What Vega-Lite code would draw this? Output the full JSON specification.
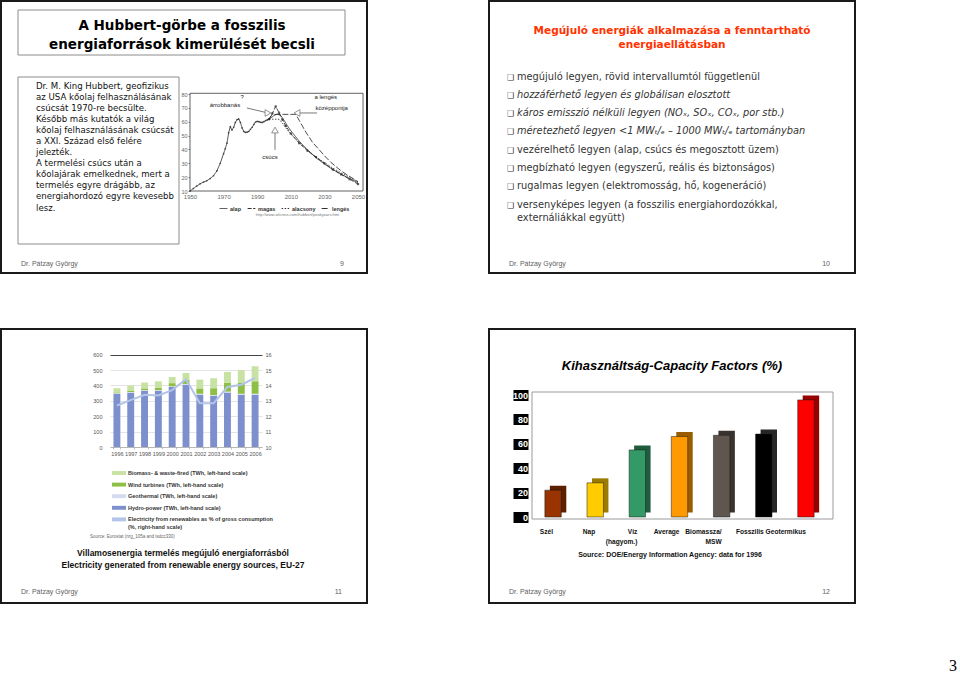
{
  "$schema": "https://vega.github.io/schema/vega-lite/v6.json",
  "background": "white",
  "padding": 0,
  "autosize": {"type": "pad"},
  "bounds": "flush",
  "columns": 2,
  "spacing": {"row": 56, "column": 122},
  "config": {
    "view": {"stroke": null},
    "axis": {"labelFont": "Liberation Sans", "grid": false, "labelOverlap": false, "labelFlush": false},
    "legend": {"labelFont": "Liberation Sans", "padding": 0},
    "text": {"font": "Liberation Sans"}
  },
  "datasets": {
    "hubbert": [
      {"series": "alap", "year": 1950, "value": 10.0}, {"series": "alap", "year": 1952, "value": 11.8},
      {"series": "alap", "year": 1954, "value": 13.6}, {"series": "alap", "year": 1956, "value": 15.2},
      {"series": "alap", "year": 1958, "value": 16.4}, {"series": "alap", "year": 1960, "value": 17.4},
      {"series": "alap", "year": 1962, "value": 19.0}, {"series": "alap", "year": 1964, "value": 21.0},
      {"series": "alap", "year": 1966, "value": 24.5}, {"series": "alap", "year": 1968, "value": 30.0},
      {"series": "alap", "year": 1970, "value": 37.0}, {"series": "alap", "year": 1971, "value": 40.5},
      {"series": "alap", "year": 1972, "value": 44.5}, {"series": "alap", "year": 1973, "value": 52.0},
      {"series": "alap", "year": 1974, "value": 56.5}, {"series": "alap", "year": 1975, "value": 54.0},
      {"series": "alap", "year": 1976, "value": 56.0}, {"series": "alap", "year": 1977, "value": 59.5},
      {"series": "alap", "year": 1978, "value": 61.5}, {"series": "alap", "year": 1979, "value": 62.0},
      {"series": "alap", "year": 1980, "value": 59.5}, {"series": "alap", "year": 1981, "value": 55.5},
      {"series": "alap", "year": 1982, "value": 53.0}, {"series": "alap", "year": 1983, "value": 52.3},
      {"series": "alap", "year": 1984, "value": 52.5}, {"series": "alap", "year": 1985, "value": 53.0},
      {"series": "alap", "year": 1986, "value": 54.5}, {"series": "alap", "year": 1987, "value": 56.0},
      {"series": "alap", "year": 1988, "value": 58.0}, {"series": "alap", "year": 1989, "value": 59.8},
      {"series": "alap", "year": 1990, "value": 60.2}, {"series": "alap", "year": 1991, "value": 60.0},
      {"series": "alap", "year": 1992, "value": 59.6}, {"series": "alap", "year": 1993, "value": 59.5},
      {"series": "alap", "year": 1994, "value": 60.0}, {"series": "alap", "year": 1995, "value": 60.8},
      {"series": "alap", "year": 1996, "value": 61.3}, {"series": "alap", "year": 1997, "value": 61.8},
      {"series": "alap", "year": 1998, "value": 62.5}, {"series": "alap", "year": 2000, "value": 64.5},
      {"series": "alap", "year": 2002, "value": 65.5}, {"series": "alap", "year": 2004, "value": 64.5},
      {"series": "alap", "year": 2006, "value": 61.0}, {"series": "alap", "year": 2008, "value": 57.0},
      {"series": "alap", "year": 2010, "value": 53.5}, {"series": "alap", "year": 2015, "value": 46.0},
      {"series": "alap", "year": 2020, "value": 39.5}, {"series": "alap", "year": 2025, "value": 34.0},
      {"series": "alap", "year": 2030, "value": 29.5}, {"series": "alap", "year": 2035, "value": 25.5},
      {"series": "alap", "year": 2040, "value": 22.0}, {"series": "alap", "year": 2045, "value": 19.0},
      {"series": "alap", "year": 2050, "value": 16.0},
      {"series": "magas", "year": 1997, "value": 61.8}, {"series": "magas", "year": 1999, "value": 66.0},
      {"series": "magas", "year": 2001, "value": 71.0}, {"series": "magas", "year": 2003, "value": 66.5},
      {"series": "magas", "year": 2005, "value": 61.5}, {"series": "magas", "year": 2007, "value": 57.0},
      {"series": "magas", "year": 2010, "value": 51.5}, {"series": "magas", "year": 2015, "value": 44.5},
      {"series": "magas", "year": 2020, "value": 39.0}, {"series": "magas", "year": 2025, "value": 34.5},
      {"series": "magas", "year": 2030, "value": 30.0}, {"series": "magas", "year": 2035, "value": 25.5},
      {"series": "magas", "year": 2040, "value": 22.0}, {"series": "magas", "year": 2045, "value": 18.5},
      {"series": "magas", "year": 2050, "value": 15.0},
      {"series": "alacsony", "year": 1997, "value": 61.8}, {"series": "alacsony", "year": 2003, "value": 61.8},
      {"series": "alacsony", "year": 2005, "value": 59.0}, {"series": "alacsony", "year": 2008, "value": 54.0},
      {"series": "alacsony", "year": 2010, "value": 51.0}, {"series": "alacsony", "year": 2015, "value": 45.0},
      {"series": "alacsony", "year": 2020, "value": 39.5}, {"series": "alacsony", "year": 2025, "value": 34.5},
      {"series": "alacsony", "year": 2030, "value": 30.5}, {"series": "alacsony", "year": 2035, "value": 26.5},
      {"series": "alacsony", "year": 2040, "value": 23.0}, {"series": "alacsony", "year": 2045, "value": 20.0},
      {"series": "alacsony", "year": 2050, "value": 16.5},
      {"series": "lengés", "year": 1997, "value": 61.8}, {"series": "lengés", "year": 1999, "value": 65.3},
      {"series": "lengés", "year": 2013, "value": 65.3}, {"series": "lengés", "year": 2015, "value": 61.0},
      {"series": "lengés", "year": 2018, "value": 54.5}, {"series": "lengés", "year": 2020, "value": 50.5},
      {"series": "lengés", "year": 2023, "value": 45.0}, {"series": "lengés", "year": 2026, "value": 41.0},
      {"series": "lengés", "year": 2030, "value": 35.5}, {"series": "lengés", "year": 2034, "value": 30.5},
      {"series": "lengés", "year": 2037, "value": 27.5}, {"series": "lengés", "year": 2040, "value": 24.5},
      {"series": "lengés", "year": 2043, "value": 22.0}, {"series": "lengés", "year": 2047, "value": 19.0},
      {"series": "lengés", "year": 2050, "value": 16.7}
    ],
    "hubbertNotes": [
      {"label": "árrobbanás", "year": 1970.8, "value": 72.0},
      {"label": "?", "year": 1981, "value": 77.5},
      {"label": "a lengés", "year": 2030.8, "value": 77.8},
      {"label": "középpontja", "year": 2034.3, "value": 69.9},
      {"label": "csúcs", "year": 1997.6, "value": 34.5}
    ],
    "hubbertArrows": [
      {"target": "árrobbanás", "year": 1983.9, "value": 69.9, "year2": 1996.4, "value2": 66.3},
      {"target": "a lengés középpontja", "year": 2025.6, "value": 66.3, "year2": 2013.7, "value2": 66.3},
      {"target": "csúcs", "year": 2000.6, "value": 39.6, "year2": 2000.6, "value2": 54.0}
    ],
    "renewables": [
      {"year": 1996, "series": "Hydro-power (TWh, left-hand scale)", "ord": 1, "twh": 345},
      {"year": 1996, "series": "Geothermal (TWh, left-hand scale)", "ord": 2, "twh": 5},
      {"year": 1996, "series": "Wind turbines (TWh, left-hand scale)", "ord": 3, "twh": 5},
      {"year": 1996, "series": "Biomass- & waste-fired (TWh, left-hand scale)", "ord": 4, "twh": 27},
      {"year": 1997, "series": "Hydro-power (TWh, left-hand scale)", "ord": 1, "twh": 352},
      {"year": 1997, "series": "Geothermal (TWh, left-hand scale)", "ord": 2, "twh": 5},
      {"year": 1997, "series": "Wind turbines (TWh, left-hand scale)", "ord": 3, "twh": 7},
      {"year": 1997, "series": "Biomass- & waste-fired (TWh, left-hand scale)", "ord": 4, "twh": 35},
      {"year": 1998, "series": "Hydro-power (TWh, left-hand scale)", "ord": 1, "twh": 365},
      {"year": 1998, "series": "Geothermal (TWh, left-hand scale)", "ord": 2, "twh": 5},
      {"year": 1998, "series": "Wind turbines (TWh, left-hand scale)", "ord": 3, "twh": 11},
      {"year": 1998, "series": "Biomass- & waste-fired (TWh, left-hand scale)", "ord": 4, "twh": 38},
      {"year": 1999, "series": "Hydro-power (TWh, left-hand scale)", "ord": 1, "twh": 365},
      {"year": 1999, "series": "Geothermal (TWh, left-hand scale)", "ord": 2, "twh": 5},
      {"year": 1999, "series": "Wind turbines (TWh, left-hand scale)", "ord": 3, "twh": 14},
      {"year": 1999, "series": "Biomass- & waste-fired (TWh, left-hand scale)", "ord": 4, "twh": 43},
      {"year": 2000, "series": "Hydro-power (TWh, left-hand scale)", "ord": 1, "twh": 390},
      {"year": 2000, "series": "Geothermal (TWh, left-hand scale)", "ord": 2, "twh": 5},
      {"year": 2000, "series": "Wind turbines (TWh, left-hand scale)", "ord": 3, "twh": 20},
      {"year": 2000, "series": "Biomass- & waste-fired (TWh, left-hand scale)", "ord": 4, "twh": 40},
      {"year": 2001, "series": "Hydro-power (TWh, left-hand scale)", "ord": 1, "twh": 405},
      {"year": 2001, "series": "Geothermal (TWh, left-hand scale)", "ord": 2, "twh": 5},
      {"year": 2001, "series": "Wind turbines (TWh, left-hand scale)", "ord": 3, "twh": 26},
      {"year": 2001, "series": "Biomass- & waste-fired (TWh, left-hand scale)", "ord": 4, "twh": 45},
      {"year": 2002, "series": "Hydro-power (TWh, left-hand scale)", "ord": 1, "twh": 340},
      {"year": 2002, "series": "Geothermal (TWh, left-hand scale)", "ord": 2, "twh": 6},
      {"year": 2002, "series": "Wind turbines (TWh, left-hand scale)", "ord": 3, "twh": 35},
      {"year": 2002, "series": "Biomass- & waste-fired (TWh, left-hand scale)", "ord": 4, "twh": 57},
      {"year": 2003, "series": "Hydro-power (TWh, left-hand scale)", "ord": 1, "twh": 332},
      {"year": 2003, "series": "Geothermal (TWh, left-hand scale)", "ord": 2, "twh": 6},
      {"year": 2003, "series": "Wind turbines (TWh, left-hand scale)", "ord": 3, "twh": 44},
      {"year": 2003, "series": "Biomass- & waste-fired (TWh, left-hand scale)", "ord": 4, "twh": 65},
      {"year": 2004, "series": "Hydro-power (TWh, left-hand scale)", "ord": 1, "twh": 354},
      {"year": 2004, "series": "Geothermal (TWh, left-hand scale)", "ord": 2, "twh": 6},
      {"year": 2004, "series": "Wind turbines (TWh, left-hand scale)", "ord": 3, "twh": 58},
      {"year": 2004, "series": "Biomass- & waste-fired (TWh, left-hand scale)", "ord": 4, "twh": 70},
      {"year": 2005, "series": "Hydro-power (TWh, left-hand scale)", "ord": 1, "twh": 340},
      {"year": 2005, "series": "Geothermal (TWh, left-hand scale)", "ord": 2, "twh": 6},
      {"year": 2005, "series": "Wind turbines (TWh, left-hand scale)", "ord": 3, "twh": 70},
      {"year": 2005, "series": "Biomass- & waste-fired (TWh, left-hand scale)", "ord": 4, "twh": 84},
      {"year": 2006, "series": "Hydro-power (TWh, left-hand scale)", "ord": 1, "twh": 340},
      {"year": 2006, "series": "Geothermal (TWh, left-hand scale)", "ord": 2, "twh": 6},
      {"year": 2006, "series": "Wind turbines (TWh, left-hand scale)", "ord": 3, "twh": 82},
      {"year": 2006, "series": "Biomass- & waste-fired (TWh, left-hand scale)", "ord": 4, "twh": 97}
    ],
    "share": [
      {"year": 1996, "series": "Electricity from renewables as % of gross consumption (%, right-hand scale)", "pct": 12.7},
      {"year": 1997, "series": "Electricity from renewables as % of gross consumption (%, right-hand scale)", "pct": 13.05},
      {"year": 1998, "series": "Electricity from renewables as % of gross consumption (%, right-hand scale)", "pct": 13.4},
      {"year": 1999, "series": "Electricity from renewables as % of gross consumption (%, right-hand scale)", "pct": 13.35},
      {"year": 2000, "series": "Electricity from renewables as % of gross consumption (%, right-hand scale)", "pct": 13.7},
      {"year": 2001, "series": "Electricity from renewables as % of gross consumption (%, right-hand scale)", "pct": 14.4},
      {"year": 2002, "series": "Electricity from renewables as % of gross consumption (%, right-hand scale)", "pct": 12.85},
      {"year": 2003, "series": "Electricity from renewables as % of gross consumption (%, right-hand scale)", "pct": 12.85},
      {"year": 2004, "series": "Electricity from renewables as % of gross consumption (%, right-hand scale)", "pct": 13.9},
      {"year": 2005, "series": "Electricity from renewables as % of gross consumption (%, right-hand scale)", "pct": 14.05},
      {"year": 2006, "series": "Electricity from renewables as % of gross consumption (%, right-hand scale)", "pct": 14.5}
    ],
    "capacity": [
      {"source": "Szél", "cf": 22},
      {"source": "Nap", "cf": 28},
      {"source": "Víz|(hagyom.)", "cf": 55},
      {"source": "Average", "cf": 66},
      {"source": "Biomassza/|MSW", "cf": 67},
      {"source": "Fosszilis", "cf": 68},
      {"source": "Geotermikus", "cf": 96}
    ]
  },
  "concat": [
    {
      "width": 366,
      "height": 272,
      "view": {"stroke": "#1a1a1a", "strokeWidth": 2, "fill": "white"},
      "resolve": {"scale": {"x": "independent", "y": "independent"}},
      "layer": [
        {
          "layer": [
            {
              "data": {"values": [{"box": "title"}]},
              "mark": {"type": "rect", "fill": "white", "stroke": "#8c8c8c", "strokeWidth": 1},
              "encoding": {
                "x": {"datum": 17, "type": "quantitative", "scale": {"domain": [0, 366], "range": [0, 366], "nice": false, "zero": false}, "axis": null},
                "x2": {"datum": 344},
                "y": {"datum": 9, "type": "quantitative", "scale": {"domain": [0, 272], "range": [0, 272], "nice": false, "zero": false}, "axis": null},
                "y2": {"datum": 54}
              }
            },
            {
              "data": {"values": [{"box": "text"}]},
              "mark": {"type": "rect", "fill": "white", "stroke": "#8c8c8c", "strokeWidth": 1},
              "encoding": {
                "x": {"datum": 17, "type": "quantitative", "scale": {"domain": [0, 366], "range": [0, 366], "nice": false, "zero": false}, "axis": null},
                "x2": {"datum": 178},
                "y": {"datum": 76, "type": "quantitative", "scale": {"domain": [0, 272], "range": [0, 272], "nice": false, "zero": false}, "axis": null},
                "y2": {"datum": 243}
              }
            },
            {
              "data": {"values": [{"t": ["A Hubbert-görbe a fosszilis", "energiaforrások kimerülését becsli"]}]},
              "mark": {"type": "text", "font": "DejaVu Sans", "fontSize": 13.5, "fontWeight": "bold", "align": "center", "baseline": "alphabetic", "lineHeight": 19, "color": "#000"},
              "encoding": {
                "text": {"field": "t"},
                "x": {"datum": 181, "type": "quantitative", "scale": {"domain": [0, 366], "range": [0, 366], "nice": false, "zero": false}, "axis": null},
                "y": {"datum": 29, "type": "quantitative", "scale": {"domain": [0, 272], "range": [0, 272], "nice": false, "zero": false}, "axis": null}
              }
            },
            {
              "data": {"values": [{"t": ["Dr. M. King Hubbert, geofizikus", "az USA kőolaj felhasználásának", "csúcsát 1970-re becsülte.", "Később más kutatók a világ", "kőolaj felhasználásának csúcsát", "a XXI. Század első felére", "jelezték.", "A termelési csúcs után a", "kőolajárak emelkednek, mert a", "termelés egyre drágább, az", "energiahordozó egyre kevesebb", "lesz."]}]},
              "mark": {"type": "text", "font": "DejaVu Sans", "fontSize": 8.6, "align": "left", "baseline": "alphabetic", "lineHeight": 11.1, "color": "#111"},
              "encoding": {
                "text": {"field": "t"},
                "x": {"datum": 35, "type": "quantitative", "scale": {"domain": [0, 366], "range": [0, 366], "nice": false, "zero": false}, "axis": null},
                "y": {"datum": 87.5, "type": "quantitative", "scale": {"domain": [0, 272], "range": [0, 272], "nice": false, "zero": false}, "axis": null}
              }
            },
            {
              "data": {"values": [{"t": "Dr. Pátzay György"}]},
              "mark": {"type": "text", "fontSize": 7, "align": "left", "baseline": "middle", "color": "#606060"},
              "encoding": {
                "text": {"field": "t"},
                "x": {"datum": 20, "type": "quantitative", "scale": {"domain": [0, 366], "range": [0, 366], "nice": false, "zero": false}, "axis": null},
                "y": {"datum": 263, "type": "quantitative", "scale": {"domain": [0, 272], "range": [0, 272], "nice": false, "zero": false}, "axis": null}
              }
            },
            {
              "data": {"values": [{"t": "9"}]},
              "mark": {"type": "text", "fontSize": 7, "align": "right", "baseline": "middle", "color": "#606060"},
              "encoding": {
                "text": {"field": "t"},
                "x": {"datum": 343, "type": "quantitative", "scale": {"domain": [0, 366], "range": [0, 366], "nice": false, "zero": false}, "axis": null},
                "y": {"datum": 263, "type": "quantitative", "scale": {"domain": [0, 272], "range": [0, 272], "nice": false, "zero": false}, "axis": null}
              }
            }
          ]
        },
        {
          "layer": [
            {
              "data": {"values": [{"frame": "plot"}]},
              "mark": {"type": "rect", "fill": "white", "stroke": "#3a3a3a", "strokeWidth": 0.8},
              "encoding": {
                "x": {"datum": 1950, "type": "quantitative", "scale": {"domain": [1950, 2050], "range": [189, 357], "nice": false, "zero": false},
                  "axis": {"orient": "bottom", "offset": -82, "title": null, "values": [1950, 1970, 1990, 2010, 2030, 2050], "format": "d", "domain": false, "ticks": false, "labelFontSize": 6, "labelColor": "#666", "labelPadding": 2, "grid": false, "labelOverlap": false}},
                "x2": {"datum": 2053},
                "y": {"datum": 10, "type": "quantitative", "scale": {"domain": [10, 80], "range": [190, 93], "nice": false, "zero": false},
                  "axis": {"orient": "left", "offset": -189, "title": null, "values": [10, 20, 30, 40, 50, 60, 70, 80], "tickCount": 8, "domain": false, "ticks": true, "tickSize": 2, "tickColor": "#888", "labelFontSize": 5.5, "labelColor": "#666", "labelPadding": 1, "grid": false, "labelOverlap": false, "labelBound": false, "labelSeparation": 0}},
                "y2": {"datum": 80.5}
              }
            },
            {
              "data": {"name": "hubbert"},
              "mark": {"type": "line", "strokeWidth": 0.8, "color": "#222"},
              "encoding": {
                "x": {"field": "year", "type": "quantitative", "scale": {"domain": [1950, 2050], "range": [189, 357], "nice": false, "zero": false},
                  "axis": {"orient": "bottom", "offset": -82, "title": null, "values": [1950, 1970, 1990, 2010, 2030, 2050], "format": "d", "domain": false, "ticks": false, "labelFontSize": 6, "labelColor": "#666", "labelPadding": 2, "grid": false, "labelOverlap": false}},
                "y": {"field": "value", "type": "quantitative", "scale": {"domain": [10, 80], "range": [190, 93], "nice": false, "zero": false},
                  "axis": {"orient": "left", "offset": -189, "title": null, "values": [10, 20, 30, 40, 50, 60, 70, 80], "tickCount": 8, "domain": false, "ticks": true, "tickSize": 2, "tickColor": "#888", "labelFontSize": 5.5, "labelColor": "#666", "labelPadding": 1, "grid": false, "labelOverlap": false, "labelBound": false, "labelSeparation": 0}},
                "strokeDash": {"field": "series", "type": "nominal",
                  "scale": {"domain": ["alap", "magas", "alacsony", "lengés"], "range": [[1, 0], [4, 1.5], [1.5, 1.5], [6, 2]]},
                  "legend": {"orient": "none", "legendX": 218, "legendY": 203, "direction": "horizontal", "title": null, "symbolType": "stroke", "symbolSize": 60, "symbolStrokeWidth": 1, "symbolStrokeColor": "#333", "labelFontSize": 5.5, "labelFontWeight": "bold", "labelColor": "#333", "columnPadding": 3, "labelOffset": 2}}
              }
            },
            {
              "data": {"name": "hubbert"},
              "transform": [{"filter": "datum.series === 'alap' && datum.year <= 1997"}],
              "mark": {"type": "point", "shape": "circle", "size": 3, "filled": true, "color": "#222"},
              "encoding": {
                "x": {"field": "year", "type": "quantitative", "scale": {"domain": [1950, 2050], "range": [189, 357], "nice": false, "zero": false},
                  "axis": {"orient": "bottom", "offset": -82, "title": null, "values": [1950, 1970, 1990, 2010, 2030, 2050], "format": "d", "domain": false, "ticks": false, "labelFontSize": 6, "labelColor": "#666", "labelPadding": 2, "grid": false, "labelOverlap": false}},
                "y": {"field": "value", "type": "quantitative", "scale": {"domain": [10, 80], "range": [190, 93], "nice": false, "zero": false},
                  "axis": {"orient": "left", "offset": -189, "title": null, "values": [10, 20, 30, 40, 50, 60, 70, 80], "tickCount": 8, "domain": false, "ticks": true, "tickSize": 2, "tickColor": "#888", "labelFontSize": 5.5, "labelColor": "#666", "labelPadding": 1, "grid": false, "labelOverlap": false, "labelBound": false, "labelSeparation": 0}}
              }
            },
            {
              "data": {"name": "hubbert"},
              "transform": [{"filter": "datum.series === 'magas'"}],
              "mark": {"type": "point", "shape": "square", "size": 5, "filled": true, "color": "#222"},
              "encoding": {
                "x": {"field": "year", "type": "quantitative", "scale": {"domain": [1950, 2050], "range": [189, 357], "nice": false, "zero": false},
                  "axis": {"orient": "bottom", "offset": -82, "title": null, "values": [1950, 1970, 1990, 2010, 2030, 2050], "format": "d", "domain": false, "ticks": false, "labelFontSize": 6, "labelColor": "#666", "labelPadding": 2, "grid": false, "labelOverlap": false}},
                "y": {"field": "value", "type": "quantitative", "scale": {"domain": [10, 80], "range": [190, 93], "nice": false, "zero": false},
                  "axis": {"orient": "left", "offset": -189, "title": null, "values": [10, 20, 30, 40, 50, 60, 70, 80], "tickCount": 8, "domain": false, "ticks": true, "tickSize": 2, "tickColor": "#888", "labelFontSize": 5.5, "labelColor": "#666", "labelPadding": 1, "grid": false, "labelOverlap": false, "labelBound": false, "labelSeparation": 0}}
              }
            },
            {
              "data": {"name": "hubbertArrows"},
              "mark": {"type": "rule", "color": "#7a7a7a", "strokeWidth": 1},
              "encoding": {
                "x": {"field": "year", "type": "quantitative", "scale": {"domain": [1950, 2050], "range": [189, 357], "nice": false, "zero": false},
                  "axis": {"orient": "bottom", "offset": -82, "title": null, "values": [1950, 1970, 1990, 2010, 2030, 2050], "format": "d", "domain": false, "ticks": false, "labelFontSize": 6, "labelColor": "#666", "labelPadding": 2, "grid": false, "labelOverlap": false}},
                "y": {"field": "value", "type": "quantitative", "scale": {"domain": [10, 80], "range": [190, 93], "nice": false, "zero": false},
                  "axis": {"orient": "left", "offset": -189, "title": null, "values": [10, 20, 30, 40, 50, 60, 70, 80], "tickCount": 8, "domain": false, "ticks": true, "tickSize": 2, "tickColor": "#888", "labelFontSize": 5.5, "labelColor": "#666", "labelPadding": 1, "grid": false, "labelOverlap": false, "labelBound": false, "labelSeparation": 0}},
                "x2": {"field": "year2"},
                "y2": {"field": "value2"}
              }
            },
            {
              "data": {"name": "hubbertArrows"},
              "mark": {"type": "point", "filled": true, "fill": "white", "stroke": "#7a7a7a", "strokeWidth": 0.8, "size": 45, "opacity": 1},
              "encoding": {
                "x": {"field": "year2", "type": "quantitative", "scale": {"domain": [1950, 2050], "range": [189, 357], "nice": false, "zero": false},
                  "axis": {"orient": "bottom", "offset": -82, "title": null, "values": [1950, 1970, 1990, 2010, 2030, 2050], "format": "d", "domain": false, "ticks": false, "labelFontSize": 6, "labelColor": "#666", "labelPadding": 2, "grid": false, "labelOverlap": false}},
                "y": {"field": "value2", "type": "quantitative", "scale": {"domain": [10, 80], "range": [190, 93], "nice": false, "zero": false},
                  "axis": {"orient": "left", "offset": -189, "title": null, "values": [10, 20, 30, 40, 50, 60, 70, 80], "tickCount": 8, "domain": false, "ticks": true, "tickSize": 2, "tickColor": "#888", "labelFontSize": 5.5, "labelColor": "#666", "labelPadding": 1, "grid": false, "labelOverlap": false, "labelBound": false, "labelSeparation": 0}},
                "shape": {"field": "target", "type": "nominal", "scale": {"domain": ["árrobbanás", "a lengés középpontja", "csúcs"], "range": ["triangle-right", "triangle-left", "triangle-up"]}, "legend": null}
              }
            },
            {
              "data": {"name": "hubbertNotes"},
              "mark": {"type": "text", "fontSize": 6, "color": "#222", "align": "center", "baseline": "middle"},
              "encoding": {
                "text": {"field": "label"},
                "x": {"field": "year", "type": "quantitative", "scale": {"domain": [1950, 2050], "range": [189, 357], "nice": false, "zero": false},
                  "axis": {"orient": "bottom", "offset": -82, "title": null, "values": [1950, 1970, 1990, 2010, 2030, 2050], "format": "d", "domain": false, "ticks": false, "labelFontSize": 6, "labelColor": "#666", "labelPadding": 2, "grid": false, "labelOverlap": false}},
                "y": {"field": "value", "type": "quantitative", "scale": {"domain": [10, 80], "range": [190, 93], "nice": false, "zero": false},
                  "axis": {"orient": "left", "offset": -189, "title": null, "values": [10, 20, 30, 40, 50, 60, 70, 80], "tickCount": 8, "domain": false, "ticks": true, "tickSize": 2, "tickColor": "#888", "labelFontSize": 5.5, "labelColor": "#666", "labelPadding": 1, "grid": false, "labelOverlap": false, "labelBound": false, "labelSeparation": 0}}
              }
            },
            {
              "data": {"values": [{"t": "http://www.oilcrisis.com/hubbert/peakyears.htm"}]},
              "mark": {"type": "text", "fontSize": 4, "color": "#777", "align": "center", "baseline": "middle"},
              "encoding": {
                "text": {"field": "t"},
                "x": {"datum": 2014, "type": "quantitative", "scale": {"domain": [1950, 2050], "range": [189, 357], "nice": false, "zero": false},
                  "axis": {"orient": "bottom", "offset": -82, "title": null, "values": [1950, 1970, 1990, 2010, 2030, 2050], "format": "d", "domain": false, "ticks": false, "labelFontSize": 6, "labelColor": "#666", "labelPadding": 2, "grid": false, "labelOverlap": false}},
                "y": {"datum": -7.3, "type": "quantitative", "scale": {"domain": [10, 80], "range": [190, 93], "nice": false, "zero": false},
                  "axis": {"orient": "left", "offset": -189, "title": null, "values": [10, 20, 30, 40, 50, 60, 70, 80], "tickCount": 8, "domain": false, "ticks": true, "tickSize": 2, "tickColor": "#888", "labelFontSize": 5.5, "labelColor": "#666", "labelPadding": 1, "grid": false, "labelOverlap": false, "labelBound": false, "labelSeparation": 0}}
              }
            }
          ]
        }
      ]
    },
    {
      "width": 366,
      "height": 272,
      "view": {"stroke": "#1a1a1a", "strokeWidth": 2, "fill": "white"},
      "resolve": {"scale": {"x": "independent", "y": "independent"}},
      "layer": [
        {
          "layer": [
            {
              "data": {"values": [{"t": ["Megújuló energiák alkalmazása a fenntartható", "energiaellátásban"]}]},
              "mark": {"type": "text", "font": "DejaVu Sans", "fontSize": 10.5, "fontWeight": "bold", "align": "center", "baseline": "alphabetic", "lineHeight": 13.5, "color": "#ff3300"},
              "encoding": {
                "text": {"field": "t"},
                "x": {"datum": 183, "type": "quantitative", "scale": {"domain": [0, 366], "range": [0, 366], "nice": false, "zero": false}, "axis": null},
                "y": {"datum": 33, "type": "quantitative", "scale": {"domain": [0, 272], "range": [0, 272], "nice": false, "zero": false}, "axis": null}
              }
            },
            {
              "data": {"values": [{"t": "Dr. Pátzay György"}]},
              "mark": {"type": "text", "fontSize": 7, "align": "left", "baseline": "middle", "color": "#606060"},
              "encoding": {
                "text": {"field": "t"},
                "x": {"datum": 20, "type": "quantitative", "scale": {"domain": [0, 366], "range": [0, 366], "nice": false, "zero": false}, "axis": null},
                "y": {"datum": 263, "type": "quantitative", "scale": {"domain": [0, 272], "range": [0, 272], "nice": false, "zero": false}, "axis": null}
              }
            },
            {
              "data": {"values": [{"t": "10"}]},
              "mark": {"type": "text", "fontSize": 7, "align": "right", "baseline": "middle", "color": "#606060"},
              "encoding": {
                "text": {"field": "t"},
                "x": {"datum": 341, "type": "quantitative", "scale": {"domain": [0, 366], "range": [0, 366], "nice": false, "zero": false}, "axis": null},
                "y": {"datum": 263, "type": "quantitative", "scale": {"domain": [0, 272], "range": [0, 272], "nice": false, "zero": false}, "axis": null}
              }
            }
          ]
        },
        {
          "data": {"values": [
            {"item": 1, "text": "megújuló legyen, rövid intervallumtól függetlenül"},
            {"item": 2, "text": "hozzáférhető legyen és globálisan elosztott"},
            {"item": 3, "text": "káros emisszió nélküli legyen (NOₓ, SOₓ, COₓ, por stb.)"},
            {"item": 4, "text": "méretezhető legyen <1 MWₜ/ₑ – 1000 MWₜ/ₑ tartományban"},
            {"item": 5, "text": "vezérelhető legyen (alap, csúcs és megosztott üzem)"},
            {"item": 6, "text": "megbízható legyen (egyszerű, reális és biztonságos)"},
            {"item": 7, "text": "rugalmas legyen (elektromosság, hő, kogeneráció)"},
            {"item": 8, "text": ["versenyképes legyen (a fosszilis energiahordozókkal,", "externáliákkal együtt)"]}
          ]},
          "layer": [
            {
              "mark": {"type": "text", "text": "❑", "font": "DejaVu Sans", "fontSize": 8, "color": "#333", "align": "left", "baseline": "alphabetic"},
              "encoding": {
                "x": {"datum": 18, "type": "quantitative", "scale": {"domain": [0, 366], "range": [0, 366], "nice": false, "zero": false}, "axis": null},
                "y": {"field": "item", "type": "quantitative", "scale": {"domain": [1, 8], "range": [78.5, 206.6], "nice": false, "zero": false}, "axis": null}
              }
            },
            {
              "transform": [{"filter": "datum.item < 2 || datum.item > 4"}],
              "mark": {"type": "text", "font": "DejaVu Sans", "fontSize": 9.8, "color": "#333", "align": "left", "baseline": "alphabetic", "lineHeight": 13},
              "encoding": {
                "text": {"field": "text"},
                "x": {"datum": 28, "type": "quantitative", "scale": {"domain": [0, 366], "range": [0, 366], "nice": false, "zero": false}, "axis": null},
                "y": {"field": "item", "type": "quantitative", "scale": {"domain": [1, 8], "range": [78.5, 206.6], "nice": false, "zero": false}, "axis": null}
              }
            },
            {
              "transform": [{"filter": "datum.item >= 2 && datum.item <= 4"}],
              "mark": {"type": "text", "font": "DejaVu Sans", "fontSize": 9.8, "fontStyle": "italic", "color": "#333", "align": "left", "baseline": "alphabetic", "lineHeight": 13},
              "encoding": {
                "text": {"field": "text"},
                "x": {"datum": 28, "type": "quantitative", "scale": {"domain": [0, 366], "range": [0, 366], "nice": false, "zero": false}, "axis": null},
                "y": {"field": "item", "type": "quantitative", "scale": {"domain": [1, 8], "range": [78.5, 206.6], "nice": false, "zero": false}, "axis": null}
              }
            }
          ]
        }
      ]
    },
    {
      "width": 366,
      "height": 274,
      "view": {"stroke": "#1a1a1a", "strokeWidth": 2, "fill": "white"},
      "resolve": {"scale": {"x": "independent", "y": "independent"}},
      "layer": [
        {
          "layer": [
            {
              "data": {"values": [{"t": ["Villamosenergia termelés megújuló energiaforrásból", "Electricity generated from renewable energy sources, EU-27"]}]},
              "mark": {"type": "text", "fontSize": 8.5, "fontWeight": "bold", "align": "center", "baseline": "alphabetic", "lineHeight": 12, "color": "#111"},
              "encoding": {
                "text": {"field": "t"},
                "x": {"datum": 182, "type": "quantitative", "scale": {"domain": [0, 366], "range": [0, 366], "nice": false, "zero": false}, "axis": null},
                "y": {"datum": 227, "type": "quantitative", "scale": {"domain": [0, 274], "range": [0, 274], "nice": false, "zero": false}, "axis": null}
              }
            },
            {
              "data": {"values": [{"t": "Source: Eurostat (nrg_105a and tsdcc330)"}]},
              "mark": {"type": "text", "fontSize": 4.5, "align": "left", "baseline": "middle", "color": "#666"},
              "encoding": {
                "text": {"field": "t"},
                "x": {"datum": 89, "type": "quantitative", "scale": {"domain": [0, 366], "range": [0, 366], "nice": false, "zero": false}, "axis": null},
                "y": {"datum": 207.5, "type": "quantitative", "scale": {"domain": [0, 274], "range": [0, 274], "nice": false, "zero": false}, "axis": null}
              }
            },
            {
              "data": {"values": [{"t": "Dr. Pátzay György"}]},
              "mark": {"type": "text", "fontSize": 7, "align": "left", "baseline": "middle", "color": "#606060"},
              "encoding": {
                "text": {"field": "t"},
                "x": {"datum": 20, "type": "quantitative", "scale": {"domain": [0, 366], "range": [0, 366], "nice": false, "zero": false}, "axis": null},
                "y": {"datum": 263, "type": "quantitative", "scale": {"domain": [0, 274], "range": [0, 274], "nice": false, "zero": false}, "axis": null}
              }
            },
            {
              "data": {"values": [{"t": "11"}]},
              "mark": {"type": "text", "fontSize": 7, "align": "right", "baseline": "middle", "color": "#606060"},
              "encoding": {
                "text": {"field": "t"},
                "x": {"datum": 341, "type": "quantitative", "scale": {"domain": [0, 366], "range": [0, 366], "nice": false, "zero": false}, "axis": null},
                "y": {"datum": 263, "type": "quantitative", "scale": {"domain": [0, 274], "range": [0, 274], "nice": false, "zero": false}, "axis": null}
              }
            }
          ]
        },
        {
          "resolve": {"scale": {"y": "independent"}},
          "layer": [
            {
              "data": {"name": "renewables"},
              "mark": {"type": "bar"},
              "encoding": {
                "x": {"field": "year", "type": "ordinal", "scale": {"range": [109, 261], "paddingInner": 0.5, "paddingOuter": 0.25},
                  "axis": {"orient": "bottom", "offset": -156, "title": null, "labelAngle": 0, "labelFontSize": 5.5, "labelColor": "#555", "labelPadding": 2, "domainColor": "#999", "domainWidth": 0.6, "tickColor": "#999", "tickSize": 2, "tickWidth": 0.6, "tickBand": "extent", "grid": false}},
                "y": {"field": "twh", "type": "quantitative", "stack": "zero", "scale": {"domain": [0, 600], "range": [118, 25.7], "nice": false, "zero": false},
                  "axis": {"orient": "left", "offset": -109, "title": null, "values": [0, 100, 200, 300, 400, 500, 600], "labelFontSize": 5.5, "labelColor": "#555", "labelPadding": 8, "domain": false, "ticks": false, "grid": true,
                    "gridColor": {"condition": {"test": "datum.value === 600", "value": "#444444"}, "value": "#d2d2d2"},
                    "gridWidth": {"condition": {"test": "datum.value === 600", "value": 1}, "value": 0.6}}},
                "color": {"field": "series", "type": "nominal",
                  "scale": {"domain": ["Biomass- & waste-fired (TWh, left-hand scale)", "Wind turbines (TWh, left-hand scale)", "Geothermal (TWh, left-hand scale)", "Hydro-power (TWh, left-hand scale)", "Electricity from renewables as % of gross consumption (%, right-hand scale)"],
                    "range": ["#c8e2a3", "#8cbf44", "#d4dbef", "#7d8fcc", "#b3c4e8"]},
                  "legend": {"orient": "none", "legendX": 111, "legendY": 465, "direction": "vertical", "title": null, "symbolType": "M-1,-0.28H1V0.28H-1Z", "symbolSize": 196, "symbolStrokeWidth": 0, "labelFontSize": 5.5, "labelFontWeight": "bold", "labelColor": "#333", "labelLimit": 400, "rowPadding": 0.6, "labelOffset": 2,
                    "labelExpr": "indexof(datum.label, 'consumption') >= 0 ? ['Electricity from renewables as % of gross consumption', '(%, right-hand scale)'] : datum.label"}},
                "order": {"field": "ord", "type": "quantitative"}
              }
            },
            {
              "data": {"name": "share"},
              "mark": {"type": "line", "strokeWidth": 2},
              "encoding": {
                "x": {"field": "year", "type": "ordinal", "scale": {"range": [109, 261], "paddingInner": 0.5, "paddingOuter": 0.25}},
                "y": {"field": "pct", "type": "quantitative", "scale": {"domain": [10, 16], "range": [118, 25.7], "nice": false, "zero": false},
                  "axis": {"orient": "right", "offset": -105, "title": null, "values": [10, 11, 12, 13, 14, 15, 16], "labelFontSize": 5.5, "labelColor": "#555", "labelPadding": 3, "domain": false, "ticks": false, "grid": false}},
                "color": {"field": "series", "type": "nominal"}
              }
            }
          ]
        }
      ]
    },
    {
      "width": 366,
      "height": 274,
      "view": {"stroke": "#1a1a1a", "strokeWidth": 2, "fill": "white"},
      "resolve": {"scale": {"x": "independent", "y": "independent", "color": "independent"}},
      "layer": [
        {
          "layer": [
            {
              "data": {"values": [{"t": "Kihasználtság-Capacity Factors (%)"}]},
              "mark": {"type": "text", "fontSize": 13, "fontWeight": "bold", "fontStyle": "italic", "align": "center", "baseline": "middle", "color": "#000"},
              "encoding": {
                "text": {"field": "t"},
                "x": {"datum": 183, "type": "quantitative", "scale": {"domain": [0, 366], "range": [0, 366], "nice": false, "zero": false}, "axis": null},
                "y": {"datum": 37, "type": "quantitative", "scale": {"domain": [0, 274], "range": [0, 274], "nice": false, "zero": false}, "axis": null}
              }
            },
            {
              "data": {"values": [{"t": "Source: DOE/Energy Information Agency: data for 1996"}]},
              "mark": {"type": "text", "fontSize": 7, "fontWeight": "bold", "align": "center", "baseline": "middle", "color": "#111"},
              "encoding": {
                "text": {"field": "t"},
                "x": {"datum": 181, "type": "quantitative", "scale": {"domain": [0, 366], "range": [0, 366], "nice": false, "zero": false}, "axis": null},
                "y": {"datum": 226, "type": "quantitative", "scale": {"domain": [0, 274], "range": [0, 274], "nice": false, "zero": false}, "axis": null}
              }
            },
            {
              "data": {"values": [{"t": "Dr. Pátzay György"}]},
              "mark": {"type": "text", "fontSize": 7, "align": "left", "baseline": "middle", "color": "#606060"},
              "encoding": {
                "text": {"field": "t"},
                "x": {"datum": 20, "type": "quantitative", "scale": {"domain": [0, 366], "range": [0, 366], "nice": false, "zero": false}, "axis": null},
                "y": {"datum": 263, "type": "quantitative", "scale": {"domain": [0, 274], "range": [0, 274], "nice": false, "zero": false}, "axis": null}
              }
            },
            {
              "data": {"values": [{"t": "12"}]},
              "mark": {"type": "text", "fontSize": 7, "align": "right", "baseline": "middle", "color": "#606060"},
              "encoding": {
                "text": {"field": "t"},
                "x": {"datum": 341, "type": "quantitative", "scale": {"domain": [0, 366], "range": [0, 366], "nice": false, "zero": false}, "axis": null},
                "y": {"datum": 263, "type": "quantitative", "scale": {"domain": [0, 274], "range": [0, 274], "nice": false, "zero": false}, "axis": null}
              }
            },
            {
              "data": {"values": [{"t": "3"}]},
              "mark": {"type": "text", "font": "Liberation Serif", "fontSize": 16, "align": "right", "baseline": "middle", "color": "#000"},
              "encoding": {
                "text": {"field": "t"},
                "x": {"datum": 468, "type": "quantitative", "scale": {"domain": [0, 366], "range": [0, 366], "nice": false, "zero": false}, "axis": null},
                "y": {"datum": 337, "type": "quantitative", "scale": {"domain": [0, 274], "range": [0, 274], "nice": false, "zero": false}, "axis": null}
              }
            }
          ]
        },
        {
          "data": {"values": [{"frame": "plot"}]},
          "mark": {"type": "rect", "fill": "white", "stroke": "#9a9a9a", "strokeWidth": 1},
          "encoding": {
            "x": {"datum": 0, "type": "quantitative", "scale": {"domain": [0, 1], "range": [43, 344], "nice": false, "zero": false}, "axis": null},
            "x2": {"datum": 1},
            "y": {"datum": 0, "type": "quantitative", "scale": {"domain": [0, 1], "range": [190, 63], "nice": false, "zero": false}, "axis": null},
            "y2": {"datum": 1}
          }
        },
        {
          "data": {"name": "capacity"},
          "resolve": {"scale": {"color": "independent"}},
          "layer": [
            {
              "mark": {"type": "bar", "xOffset": 5, "yOffset": -4.5},
              "encoding": {
                "x": {"field": "source", "type": "nominal", "sort": null, "scale": {"range": [43, 338], "paddingInner": 0.61, "paddingOuter": 0.305}},
                "y": {"field": "cf", "type": "quantitative", "scale": {"domain": [0, 100], "range": [188, 66], "nice": false, "zero": false}},
                "color": {"field": "source", "type": "nominal", "sort": null,
                  "scale": {"domain": ["Szél", "Nap", "Víz|(hagyom.)", "Average", "Biomassza/|MSW", "Fosszilis", "Geotermikus"], "range": ["#5c1f00", "#9a7b00", "#1f5c3d", "#9a5c00", "#38332e", "#262626", "#990000"]},
                  "legend": null}
              }
            },
            {
              "mark": {"type": "bar", "stroke": "#1a1a1a", "strokeWidth": 0.5},
              "encoding": {
                "x": {"field": "source", "type": "nominal", "sort": null, "scale": {"range": [43, 338], "paddingInner": 0.61, "paddingOuter": 0.305},
                  "axis": {"orient": "bottom", "offset": -86, "title": null, "domain": false, "ticks": false, "tickSize": 0, "labelAngle": 0, "labelFontSize": 6.6, "labelFontWeight": "bold", "labelColor": "#111", "labelPadding": 11, "labelBaseline": "top", "labelLineHeight": 10, "labelExpr": "split(datum.label, '|')", "grid": false}},
                "y": {"field": "cf", "type": "quantitative", "scale": {"domain": [0, 100], "range": [188, 66], "nice": false, "zero": false},
                  "axis": {"orient": "left", "offset": -39, "title": null, "values": [0, 20, 40, 60, 80, 100], "domain": false, "ticks": true, "tickSize": 15, "tickWidth": 11, "tickColor": "#000", "tickCap": "butt", "labelPadding": -14.5, "labelColor": "#fff", "labelFontSize": 9, "labelFontWeight": "bold", "grid": false}},
                "color": {"field": "source", "type": "nominal", "sort": null,
                  "scale": {"domain": ["Szél", "Nap", "Víz|(hagyom.)", "Average", "Biomassza/|MSW", "Fosszilis", "Geotermikus"], "range": ["#993300", "#ffcc00", "#339966", "#ff9900", "#5f574f", "#000000", "#ff0000"]},
                  "legend": null}
              }
            }
          ]
        }
      ]
    }
  ]
}
